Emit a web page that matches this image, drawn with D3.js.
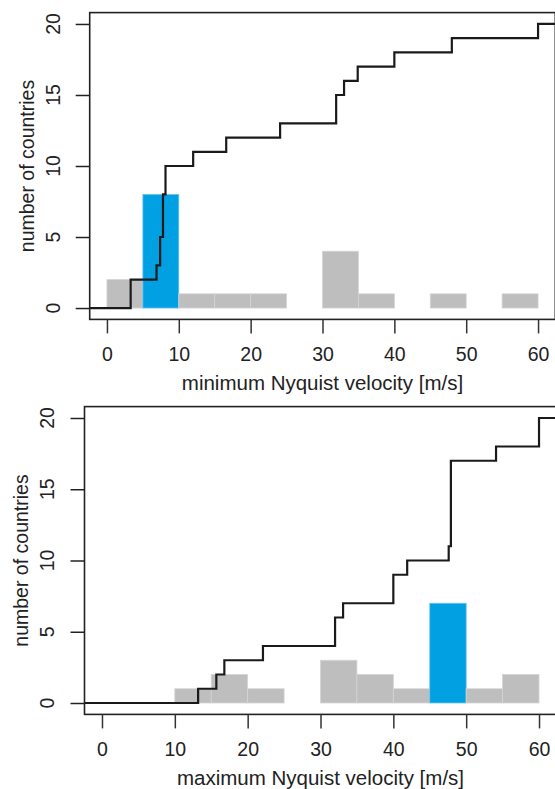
<!DOCTYPE html>
<html>
<head>
<meta charset="utf-8">
<script src="https://cdn.jsdelivr.net/npm/d3@7"></script>
<style>
  body { margin: 0; background: #fff; }
  text { font-family: "Liberation Sans", Arial, sans-serif; fill: #222; }
</style>
</head>
<body>
<svg id="chart"></svg>
<script>
// canvas size
const width = 555;
const height = 789;

// histogram bins (m/s), 5 m/s wide
const binEdges = [0, 5, 10, 15, 20, 25, 30, 35, 40, 45, 50, 55, 60];

// countries per bin
const minCounts = [2, 8, 1, 1, 1, 0, 4, 1, 0, 1, 0, 1];
const maxCounts = [0, 0, 1, 2, 1, 0, 3, 2, 1, 7, 1, 2];

// bin that is highlighted in blue
const minHighlight = 1;
const maxHighlight = 9;

// sorted per-country values, used for the cumulative step line
const minValues = [3.3, 3.3, 6.9, 7.4, 7.4, 7.8, 7.8, 7.8, 8.15, 8.15,
  12.0, 16.6, 24.1, 31.9, 31.9, 33.0, 34.9, 40.0, 48.0, 60.0];
const maxValues = [13.2, 15.7, 16.8, 22.1, 32.0, 32.0, 33.1, 40.0, 40.0, 41.9,
  47.6, 47.9, 47.9, 47.9, 47.9, 47.9, 47.9, 54.1, 60.0, 60.0];

// axis ticks and labels
const xTicks = [0, 10, 20, 30, 40, 50, 60];
const yTicks = [0, 5, 10, 15, 20];
const yLabel = "number of countries";
const minLabel = "minimum Nyquist velocity [m/s]";
const maxLabel = "maximum Nyquist velocity [m/s]";

const svg = d3.select("#chart")
  .attr("width", width)
  .attr("height", height);

// draws one histogram + cumulative line panel
function drawPanel(box, counts, highlight, values, xTitle, id) {
  const x = d3.scaleLinear().domain([-2.4, 62.4]).range([box.left, box.right]);
  const y = d3.scaleLinear().domain([-0.8, 20.8]).range([box.bottom, box.top]);

  const g = svg.append("g");

  g.append("clipPath").attr("id", id)
    .append("rect")
    .attr("x", box.left).attr("y", box.top)
    .attr("width", box.right - box.left)
    .attr("height", box.bottom - box.top);

  // histogram bars
  const bins = counts.map((c, i) => ({ x0: binEdges[i], x1: binEdges[i + 1], n: c, i: i }))
    .filter(d => d.n > 0);
  g.append("g")
    .selectAll("rect")
    .data(bins)
    .enter()
    .append("rect")
    .attr("x", d => x(d.x0))
    .attr("y", d => y(d.n))
    .attr("width", d => x(d.x1) - x(d.x0))
    .attr("height", d => y(0) - y(d.n))
    .attr("fill", d => d.i === highlight ? "#00a0e3" : "#bebebe")
    .attr("stroke", d => d.i === highlight ? "#6cc4ee" : "#d4d4d4")
    .attr("stroke-width", 0.8);

  // cumulative count step line
  const pts = [[-2.4, 0]];
  values.forEach((v, i) => {
    if (i + 1 < values.length && values[i + 1] === v) return;
    pts.push([v, i + 1]);
  });
  pts.push([62.4, values.length]);

  const line = d3.line()
    .x(d => x(d[0]))
    .y(d => y(d[1]))
    .curve(d3.curveStepAfter);

  g.append("path")
    .datum(pts)
    .attr("clip-path", "url(#" + id + ")")
    .attr("d", line)
    .attr("fill", "none")
    .attr("stroke", "#1a1a1a")
    .attr("stroke-width", 2.2);

  // frame
  g.append("rect")
    .attr("x", box.left).attr("y", box.top)
    .attr("width", box.right - box.left)
    .attr("height", box.bottom - box.top)
    .attr("fill", "none")
    .attr("stroke", "#222")
    .attr("stroke-width", 1.6);

  // x axis
  const xAxis = g.append("g")
    .attr("transform", "translate(0," + box.bottom + ")")
    .call(d3.axisBottom(x).tickValues(xTicks).tickSize(14).tickPadding(14));
  xAxis.select(".domain").remove();
  xAxis.selectAll(".tick line").attr("stroke", "#333").attr("stroke-width", 1.5);
  xAxis.selectAll(".tick text")
    .attr("font-size", 19.5)
    .attr("font-family", null)
    .attr("fill", "#222");

  // y axis
  const yAxis = g.append("g")
    .attr("transform", "translate(" + box.left + ",0)")
    .call(d3.axisLeft(y).tickValues(yTicks).tickSize(14).tickFormat(""));
  yAxis.select(".domain").remove();
  yAxis.selectAll(".tick line").attr("stroke", "#222").attr("stroke-width", 1.5);

  g.append("g")
    .selectAll("text")
    .data(yTicks)
    .enter()
    .append("text")
    .attr("transform", d => "translate(" + (box.left - 37) + "," + y(d) + ") rotate(-90)")
    .attr("text-anchor", "middle")
    .attr("dy", "0.35em")
    .attr("font-size", 19.5)
    .text(d => d);

  // titles
  g.append("text")
    .attr("x", (x(0) + x(60)) / 2)
    .attr("y", box.bottom + 71)
    .attr("text-anchor", "middle")
    .attr("font-size", 20.5)
    .text(xTitle);

  g.append("text")
    .attr("transform", "translate(" + (box.left - 63) + "," + ((box.top + box.bottom) / 2) + ") rotate(-90)")
    .attr("text-anchor", "middle")
    .attr("dy", "0.35em")
    .attr("font-size", 19.5)
    .text(yLabel);
}

drawPanel({ left: 89.7, right: 555.3, top: 12.6, bottom: 319.4 },
  minCounts, minHighlight, minValues, minLabel, "clipTop");
drawPanel({ left: 84.5, right: 556.5, top: 406.6, bottom: 714.4 },
  maxCounts, maxHighlight, maxValues, maxLabel, "clipBottom");
</script>
</body>
</html>
